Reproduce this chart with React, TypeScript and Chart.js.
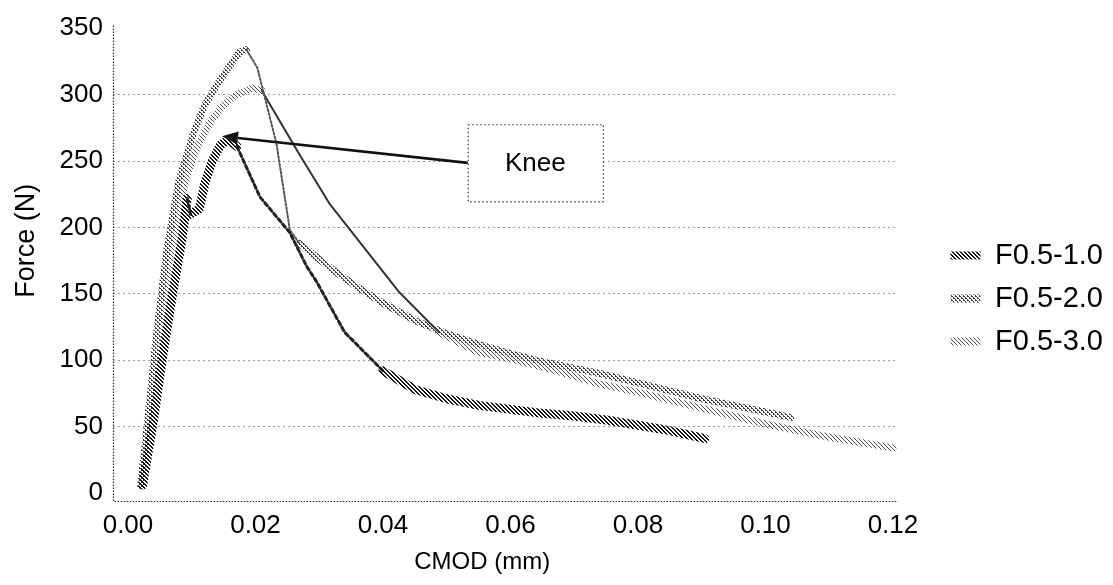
import React, { useEffect, useRef } from 'react';
import { Chart, registerables } from 'chart.js';

Chart.register(...registerables);

// Load / crack-mouth-opening records for the three specimens
const seriesNames = ['F0.5-1.0', 'F0.5-2.0', 'F0.5-3.0'];

const cmodF10 = [0.0023, 0.004, 0.0055, 0.007, 0.0085, 0.0093, 0.0098, 0.0112, 0.012, 0.0132, 0.0145, 0.0158, 0.0171, 0.0207, 0.0254, 0.028, 0.0296, 0.034, 0.04, 0.045, 0.05, 0.055, 0.06, 0.065, 0.07, 0.075, 0.08, 0.085, 0.0905];
const forceF10 = [6, 55, 105, 150, 192, 222, 210, 214, 232, 250, 262, 266, 261, 223, 196, 171, 159, 121, 92, 78, 71, 66, 63, 60, 58, 55, 51, 47, 41];

const cmodF20 = [0.002, 0.003, 0.0045, 0.0061, 0.008, 0.0102, 0.012, 0.0139, 0.016, 0.0175, 0.0186, 0.0203, 0.0233, 0.0254, 0.0269, 0.03, 0.033, 0.036, 0.04, 0.045, 0.05, 0.055, 0.06, 0.065, 0.07, 0.074, 0.08, 0.085, 0.09, 0.095, 0.1, 0.104];
const forceF20 = [6, 50, 120, 183, 235, 270, 292, 307, 322, 332, 334, 320, 263, 198, 188, 176, 165, 155, 143, 130, 120, 112, 105, 99, 94, 90, 83, 77, 71, 66, 61, 57];

const cmodF30 = [0.0022, 0.0035, 0.005, 0.0065, 0.008, 0.0095, 0.011, 0.013, 0.015, 0.017, 0.0195, 0.021, 0.0269, 0.0316, 0.0426, 0.0488, 0.055, 0.06, 0.065, 0.07, 0.074, 0.08, 0.085, 0.09, 0.095, 0.1, 0.105, 0.11, 0.115, 0.12];
const forceF30 = [6, 55, 120, 175, 215, 243, 262, 280, 292, 300, 305, 303, 255, 218, 151, 121, 106, 101, 95, 88, 82, 76, 70, 64, 58, 52, 47, 42, 38, 34];

const cmodTicks = [0, 0.02, 0.04, 0.06, 0.08, 0.1, 0.12];
const forceTicks = [0, 50, 100, 150, 200, 250, 300, 350];

// "Knee" call-out: label box and the point the arrow marks
const kneeLabel = 'Knee';
const kneeBox = { x0: 0.0533, x1: 0.0745, y0: 219.6, y1: 277.7 };
const kneeTip = { x: 0.01475, y: 268.7 };

const FONT = "'Liberation Sans', Arial, Helvetica, sans-serif";

type HatchKind = 'diag' | 'cross' | 'light';

function makeHatch(kind: HatchKind, color: string): CanvasPattern | string {
  const c = document.createElement('canvas');
  c.width = 4;
  c.height = 4;
  const g = c.getContext('2d');
  if (!g) return color;
  g.fillStyle = color;
  for (let i = 0; i < 4; i++) {
    if (kind === 'diag') {
      g.fillRect(i, i, 1, 1);
      g.fillRect((i + 1) % 4, i, 1, 1);
    } else if (kind === 'cross') {
      g.fillRect(i, i, 1, 1);
      if (i % 2 === 0) g.fillRect(3 - i, i, 1, 1);
    } else {
      g.fillRect(i, i, 1, 1);
    }
  }
  return g.createPattern(c, 'repeat') || color;
}

// thin stroke on the steep post-peak drops
const STEEP = -4500;
function isSteep(ctx: any): boolean {
  const dx = ctx.p1.parsed.x - ctx.p0.parsed.x;
  if (dx <= 0) return false;
  return (ctx.p1.parsed.y - ctx.p0.parsed.y) / dx < STEEP;
}

const dottedAxes = {
  id: 'dottedAxes',
  beforeDatasetsDraw(chart: any) {
    const { ctx, chartArea } = chart;
    ctx.save();
    ctx.strokeStyle = '#222';
    ctx.lineWidth = 1.2;
    ctx.setLineDash([1.5, 1.5]);
    ctx.beginPath();
    ctx.moveTo(chartArea.left + 0.5, chartArea.top);
    ctx.lineTo(chartArea.left + 0.5, chartArea.bottom + 0.5);
    ctx.lineTo(chartArea.right, chartArea.bottom + 0.5);
    ctx.stroke();
    ctx.restore();
  },
};

const kneeCallout = {
  id: 'kneeCallout',
  afterDatasetsDraw(chart: any) {
    const { ctx } = chart;
    const xs = chart.scales.x;
    const ys = chart.scales.y;
    const bx0 = xs.getPixelForValue(kneeBox.x0);
    const bx1 = xs.getPixelForValue(kneeBox.x1);
    const by0 = ys.getPixelForValue(kneeBox.y1);
    const by1 = ys.getPixelForValue(kneeBox.y0);
    const midY = (by0 + by1) / 2;
    const tx = xs.getPixelForValue(kneeTip.x);
    const ty = ys.getPixelForValue(kneeTip.y);
    ctx.save();
    // box
    ctx.fillStyle = '#fff';
    ctx.fillRect(bx0, by0, bx1 - bx0, by1 - by0);
    ctx.strokeStyle = '#333';
    ctx.lineWidth = 1.2;
    ctx.setLineDash([1.5, 2.5]);
    ctx.strokeRect(bx0 + 0.5, by0 + 0.5, bx1 - bx0, by1 - by0);
    ctx.setLineDash([]);
    // label
    ctx.fillStyle = '#000';
    ctx.font = `26px ${FONT}`;
    ctx.textAlign = 'center';
    ctx.textBaseline = 'middle';
    ctx.fillText(kneeLabel, (bx0 + bx1) / 2, midY + 1);
    // arrow
    const ang = Math.atan2(ty - midY, tx - bx0);
    const headLen = 16;
    const headHalf = 6.5;
    const hx = tx - headLen * Math.cos(ang);
    const hy = ty - headLen * Math.sin(ang);
    ctx.strokeStyle = '#111';
    ctx.lineWidth = 2.6;
    ctx.beginPath();
    ctx.moveTo(bx0, midY);
    ctx.lineTo(hx, hy);
    ctx.stroke();
    ctx.fillStyle = '#111';
    ctx.beginPath();
    ctx.moveTo(tx, ty);
    ctx.lineTo(hx + headHalf * Math.sin(ang), hy - headHalf * Math.cos(ang));
    ctx.lineTo(hx - headHalf * Math.sin(ang), hy + headHalf * Math.cos(ang));
    ctx.closePath();
    ctx.fill();
    ctx.restore();
  },
};

export default function App() {
  const canvasRef = useRef<HTMLCanvasElement>(null);

  useEffect(() => {
    const canvas = canvasRef.current;
    if (!canvas) return;

    Chart.defaults.font.family = FONT;
    Chart.defaults.color = '#000';

    const fills = [
      makeHatch('diag', '#151515'),
      makeHatch('cross', '#3a3a3a'),
      makeHatch('light', '#4a4a4a'),
    ];
    const widths = [9, 7, 7];
    const thinColor = ['#222', '#555', '#333'];
    const thinDash = [[4, 3], [2, 2], []];
    const thinWidth = [3, 2, 2];

    const xy = (xs: number[], ys: number[]) => xs.map((x, i) => ({ x, y: ys[i] }));
    const series = [xy(cmodF10, forceF10), xy(cmodF20, forceF20), xy(cmodF30, forceF30)];

    const datasets = series.map((data, i) => ({
      label: seriesNames[i],
      data,
      borderColor: fills[i] as any,
      backgroundColor: fills[i] as any,
      borderWidth: widths[i],
      borderJoinStyle: 'round' as const,
      borderCapStyle: 'round' as const,
      pointRadius: 0,
      tension: 0,
      segment: {
        borderWidth: (ctx: any) => (isSteep(ctx) ? thinWidth[i] : undefined),
        borderColor: (ctx: any) => (isSteep(ctx) ? thinColor[i] : undefined),
        borderDash: (ctx: any) => (isSteep(ctx) ? thinDash[i] : undefined),
      },
    }));

    const chart = new Chart(canvas, {
      type: 'line',
      data: { datasets },
      plugins: [dottedAxes, kneeCallout],
      options: {
        animation: false,
        responsive: true,
        maintainAspectRatio: false,
        layout: { padding: { top: 20, right: 0, left: 0, bottom: 8 } },
        scales: {
          x: {
            type: 'linear',
            min: -0.00235,
            max: 0.12079,
            afterBuildTicks: (s: any) => {
              s.ticks = cmodTicks.map((v) => ({ value: v }));
            },
            afterFit: (s: any) => {
              s.height = 76;
            },
            grid: { display: false, drawTicks: false },
            border: { display: false },
            ticks: {
              padding: 9,
              color: '#000',
              font: { size: 26 },
              maxRotation: 0,
              autoSkip: false,
              callback: (v: any) => Number(v).toFixed(2),
            },
            title: {
              display: true,
              text: 'CMOD (mm)       ',
              color: '#000',
              font: { size: 24 },
              padding: { top: 0, bottom: 0 },
            },
          },
          y: {
            type: 'linear',
            min: -6,
            max: 352,
            afterBuildTicks: (s: any) => {
              s.ticks = forceTicks.map((v) => ({ value: v }));
            },
            afterFit: (s: any) => {
              s.width = 113;
            },
            grid: {
              drawTicks: false,
              lineWidth: 1,
              color: (ctx: any) =>
                ctx.tick && (ctx.tick.value === 0 || ctx.tick.value === 350) ? 'rgba(0,0,0,0)' : '#9a9a9a',
            },
            border: { display: false, dash: [2, 3] },
            ticks: { padding: 10, color: '#000', font: { size: 26 } },
            title: {
              display: true,
              text: '      Force (N)',
              color: '#000',
              font: { size: 27 },
              padding: { top: 10, bottom: 0 },
            },
          },
          gap: {
            type: 'linear',
            axis: 'y',
            position: 'right',
            display: true,
            grid: { display: false, drawTicks: false },
            border: { display: false },
            ticks: { display: false },
            afterFit: (s: any) => {
              s.width = 38.5;
            },
          },
        },
        plugins: {
          legend: {
            position: 'right',
            labels: {
              boxWidth: 30,
              boxHeight: 8,
              padding: 14,
              color: '#000',
              font: { size: 29 },
              generateLabels: (c: any) =>
                c.data.datasets.map((ds: any, i: number) => ({
                  text: ds.label,
                  fillStyle: fills[i],
                  strokeStyle: fills[i],
                  lineWidth: 0,
                  hidden: false,
                  datasetIndex: i,
                  fontColor: '#000',
                })),
            },
          },
          tooltip: { enabled: false },
        },
      } as any,
    });

    return () => chart.destroy();
  }, []);

  return (
    <div style={{ position: 'absolute', left: 0, top: 0, width: 1113, height: 585, background: '#fff' }}>
      <canvas ref={canvasRef} />
    </div>
  );
}
